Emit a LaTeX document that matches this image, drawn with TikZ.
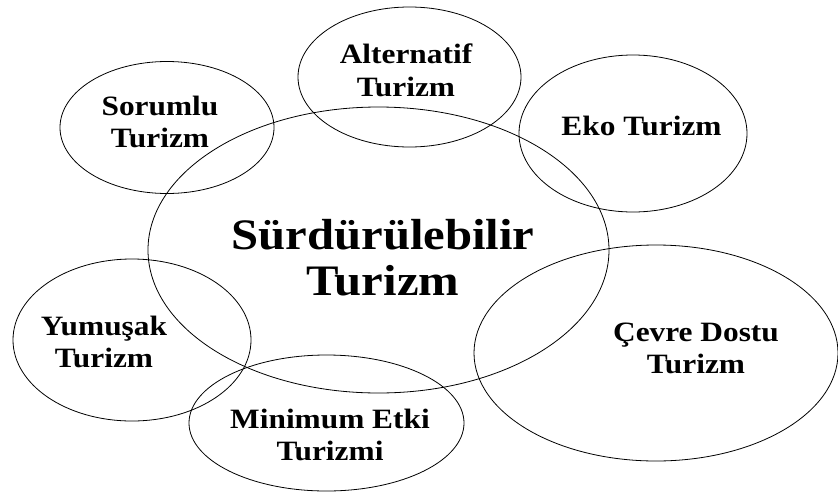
\documentclass[tikz,border=0pt]{standalone}
\usepackage{fontspec}
\setmainfont{Liberation Serif}[FakeStretch=1.12]
\usepackage{tikz}
\usetikzlibrary{shapes.geometric}

\begin{document}
\begin{tikzpicture}[x=1pt,y=-1pt,semithick]
  \tikzstyle{every node}=[inner sep=0pt]
  \tikzstyle{circ}=[ellipse,draw=black,line width=0.8pt]
  \tikzstyle{lbl}=[align=center,font=\bfseries\fontsize{28}{32.5}\selectfont]
  \useasboundingbox (0,0) rectangle (838,493);

  \node[circ,minimum width=461pt,minimum height=286pt] (S) at (378.5,250) {};
  \node[circ,minimum width=214pt,minimum height=132pt] (SO) at (167,127.5) {};
  \node[circ,minimum width=223pt,minimum height=140pt] (AL) at (409.5,77) {};
  \node[circ,minimum width=228pt,minimum height=157pt] (EK) at (633,133.5) {};
  \node[circ,minimum width=238pt,minimum height=162pt] (YU) at (132,340) {};
  \node[circ,minimum width=275pt,minimum height=136pt] (MI) at (326.5,423) {};
  \node[circ,minimum width=364pt,minimum height=216pt] (CE) at (656,353) {};

  \node[align=center,font=\bfseries\fontsize{43.5}{46}\selectfont] (St) at (383,258) {Sürdürülebilir\\Turizm};
  \node[lbl] (SOt) at (160,122) {Sorumlu\\Turizm};
  \node[lbl] (ALt) at (406,70.5) {Alternatif\\Turizm};
  \node[lbl] (EKt) at (641.5,126) {Eko Turizm};
  \node[lbl] (YUt) at (104,342) {Yumuşak\\Turizm};
  \node[lbl] (MIt) at (330,435) {Minimum Etki\\Turizmi};
  \node[lbl] (CEt) at (696,348.5) {Çevre Dostu\\Turizm};
\end{tikzpicture}
\end{document}
